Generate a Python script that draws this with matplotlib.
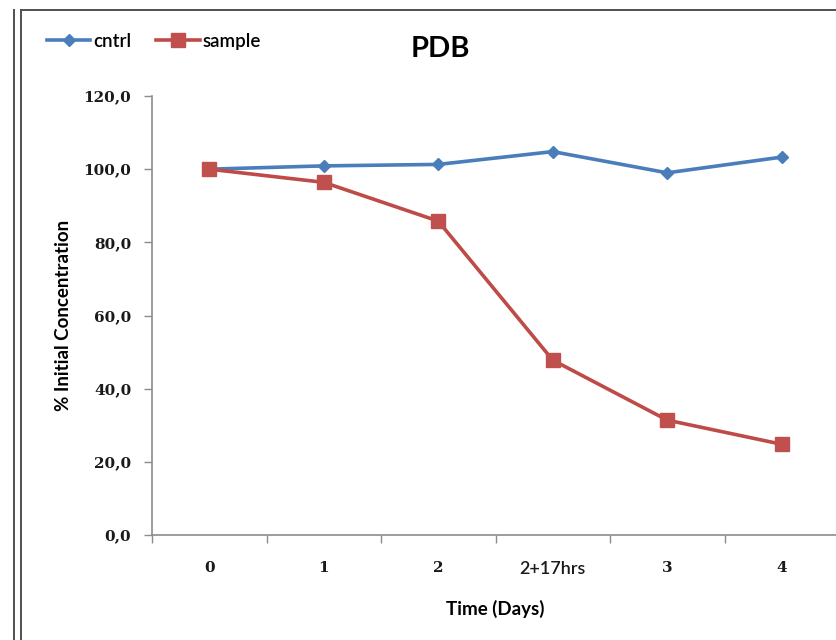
import matplotlib
matplotlib.use("Agg")
import matplotlib.pyplot as plt
from matplotlib.lines import Line2D

# Data
categories = ["0", "1", "2", "2+17hrs", "3", "4"]
cntrl = [100.0, 100.9, 101.3, 104.8, 99.0, 103.3]
sample = [100.0, 96.4, 85.8, 47.8, 31.4, 24.8]
y_ticks = [0, 20, 40, 60, 80, 100, 120]

W, H = 837, 640
fig = plt.figure(figsize=(W / 100, H / 100), dpi=100)
fig.patch.set_facecolor("white")

# Outer chart frame (double left edge + top edge)
frame_kw = dict(color="#505050", lw=1.4, transform=fig.transFigure)
fig.add_artist(Line2D([14 / W, 14 / W], [0, 1 - 10 / H], **frame_kw))
fig.add_artist(Line2D([21 / W, 21 / W], [0, 1 - 10 / H], **frame_kw))
fig.add_artist(Line2D([21 / W, 1], [1 - 10 / H, 1 - 10 / H], **frame_kw))

left, right = 152 / W, 839 / W
bottom, top = 1 - 535 / H, 1 - 96 / H
ax = fig.add_axes([left, bottom, right - left, top - bottom])

x = list(range(len(categories)))
blue = "#4A7EBB"
red = "#BE4B48"
ax.plot(x, cntrl, color=blue, lw=2.6, marker="D", ms=6.2,
        markerfacecolor=blue, markeredgecolor=blue, label="cntrl", zorder=3)
ax.plot(x, sample, color=red, lw=2.6, marker="s", ms=10.5,
        markerfacecolor="#C0504D", markeredgecolor="#C0504D", label="sample", zorder=4)

ax.set_xlim(-0.5, len(categories) - 0.5)
ax.set_ylim(0, 120)

for s in ["top", "right"]:
    ax.spines[s].set_visible(False)
for s in ["left", "bottom"]:
    ax.spines[s].set_color("#8C8C8C")
    ax.spines[s].set_linewidth(1.2)

serif = "DejaVu Serif"
sans = "Lato"

ax.set_yticks(y_ticks)
ax.set_yticklabels([f"{v:.1f}".replace(".", ",") for v in y_ticks],
                   fontfamily=serif, fontweight="bold", fontsize=11, color="#1a1a1a")
ax.tick_params(axis="y", direction="out", length=6, width=1, color="#8C8C8C", pad=9)

# Category ticks sit between categories; labels are centered on each category
ax.set_xticks([i - 0.5 for i in range(len(categories) + 1)])
ax.set_xticklabels([])
ax.tick_params(axis="x", which="major", direction="out", length=6, width=1, color="#8C8C8C")
ax.set_xticks(x, minor=True)
ax.set_xticklabels(categories, minor=True, fontsize=11, fontweight="bold", color="#1a1a1a")
ax.tick_params(axis="x", which="minor", length=0, pad=19)
for lbl in ax.get_xticklabels(minor=True):
    if lbl.get_text().isdigit():
        lbl.set_fontfamily(serif)
    else:
        lbl.set_fontfamily(sans)
        lbl.set_fontweight("semibold")
        lbl.set_fontsize(13)

ax.set_xlabel("Time (Days)", fontfamily=sans, fontweight="bold", fontsize=13.5, labelpad=16)
ax.set_ylabel("% Initial Concentration", fontfamily=sans, fontweight="bold",
              fontsize=13.5, labelpad=8)

fig.text(440 / W, 1 - 49 / H, "PDB", fontfamily=sans, fontweight="bold",
         fontsize=21, ha="center", va="center")

fig.legend(loc="upper left", bbox_to_anchor=(47 / W, 1 - 33 / H), ncol=2,
           frameon=False, prop={"family": sans, "size": 13.5, "weight": "semibold"},
           handlelength=2.3, handletextpad=0.15, columnspacing=1.35,
           borderpad=0, borderaxespad=0)

fig.savefig("out.png", dpi=100, facecolor="white")
